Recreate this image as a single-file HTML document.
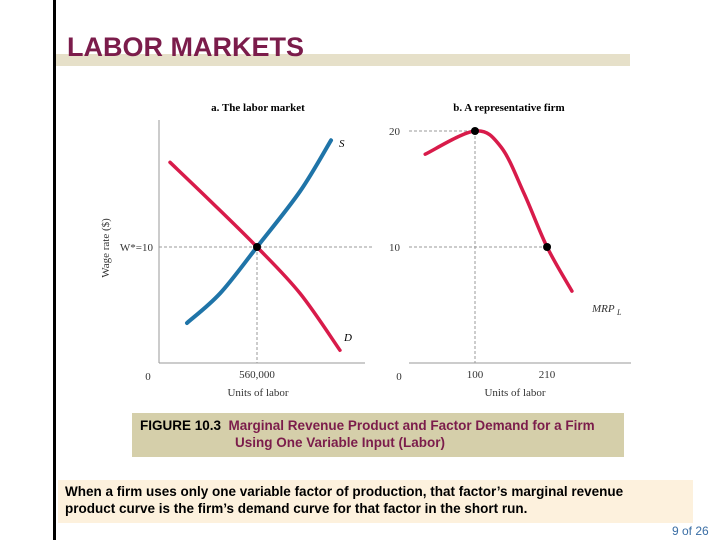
<!DOCTYPE html>
<html><head><meta charset="utf-8"><style>
body{margin:0;width:720px;height:540px;background:#fff;position:relative;overflow:hidden;font-family:"Liberation Sans",sans-serif}
.abs{position:absolute}
</style></head><body>
<div class="abs" style="left:53px;top:0;width:3px;height:540px;background:#000"></div>
<div class="abs" style="left:56px;top:54px;width:574px;height:12px;background:#e6e0c9"></div>
<div class="abs" style="left:67px;top:32px;font-size:27px;line-height:30px;font-weight:bold;color:#7b1c4b;">LABOR MARKETS</div>
<svg class="abs" style="left:0;top:0" width="720" height="410" font-family="Liberation Serif, serif">
<g id="g"></g>
</svg>
<div class="abs" style="left:132px;top:413px;width:492px;height:44px;background:#d5cfaa;font-size:13.5px;font-weight:bold;line-height:17px;box-sizing:border-box;padding:4px 0 0 8px;white-space:nowrap">
<span style="color:#000">FIGURE 10.3</span>&nbsp; <span style="color:#7b1c4b">Marginal Revenue Product and Factor Demand for a Firm<br><span style="padding-left:95px">Using One Variable Input (Labor)</span></span></div>
<div class="abs" style="left:58px;top:480px;width:635px;height:43px;background:#fdf1dd;font-size:13.5px;font-weight:bold;line-height:17px;box-sizing:border-box;padding:3px 0 0 7px;color:#000;white-space:nowrap">When a firm uses only one variable factor of production, that factor’s marginal revenue<br>product curve is the firm’s demand curve for that factor in the short run.</div>
<div class="abs" style="left:672px;top:524px;font-size:12px;color:#3a6ea5">9 of 26</div>
<script>
const supplyX=[160,349,560,806,983];
const supplyY=[3.45,6.0,10,14.8,19.2];
const demandX=[63,291,560,806,1034];
const demandY=[17.3,14.0,10,6.0,1.1];
const mrpX=[24,100,140,175,210,248];
const mrpY=[18,20,18.6,14.6,10,6.2];
const eqX=560, eqW=10;
const firmPts=[[100,20],[210,10]];
const NS='http://www.w3.org/2000/svg';
const g=document.getElementById('g');
const yS=v=>363-v*11.6;
const xA=v=>159+v*0.175;
const xB=v=>409.5+v*0.655;
function el(t,a,txt){const e=document.createElementNS(NS,t);for(const k in a)e.setAttribute(k,a[k]);if(txt!==undefined)e.textContent=txt;g.appendChild(e);return e;}
function smooth(p){let d='M'+p[0][0]+','+p[0][1];for(let i=0;i<p.length-1;i++){const p0=p[i-1]||p[i],p1=p[i],p2=p[i+1],p3=p[i+2]||p2;d+=' C'+(p1[0]+(p2[0]-p0[0])/6)+','+(p1[1]+(p2[1]-p0[1])/6)+' '+(p2[0]-(p3[0]-p1[0])/6)+','+(p2[1]-(p3[1]-p1[1])/6)+' '+p2[0]+','+p2[1];}return d;}
let e;
e=el('line',{x1:159,y1:120,x2:159,y2:363,stroke:'#999','stroke-width':1});
e=el('line',{x1:159,y1:363,x2:365,y2:363,stroke:'#999','stroke-width':1});
e=el('line',{x1:159,y1:yS(eqW),x2:372,y2:yS(eqW),stroke:'#999','stroke-dasharray':'3,2'});
e=el('line',{x1:xA(eqX),y1:yS(eqW),x2:xA(eqX),y2:363,stroke:'#999','stroke-dasharray':'3,2'});
e=el('path',{d:smooth(supplyX.map((x,i)=>[xA(x),yS(supplyY[i])])),fill:'none',stroke:'#1f74a8','stroke-width':4,'stroke-linecap':'round'});
e=el('path',{d:smooth(demandX.map((x,i)=>[xA(x),yS(demandY[i])])),fill:'none',stroke:'#d81b4a','stroke-width':3.5,'stroke-linecap':'round'});
e=el('circle',{cx:xA(eqX),cy:yS(eqW),r:4,fill:'#000'});
e=el('text',{x:258,y:111,'font-size':11,'font-weight':'bold','text-anchor':'middle'},'a. The labor market');
e=el('text',{x:339,y:147,'font-size':11,'font-style':'italic'},'S');
e=el('text',{x:344,y:341,'font-size':11,'font-style':'italic'},'D');
e=el('text',{x:153,y:251,'font-size':11,'text-anchor':'end',fill:'#333'},'W*=10');
e=el('text',{x:148,y:380,'font-size':11,'text-anchor':'middle',fill:'#333'},'0');
e=el('text',{x:xA(eqX),y:378,'font-size':11,'text-anchor':'middle',fill:'#333'},'560,000');
e=el('text',{x:258,y:396,'font-size':11,'text-anchor':'middle',fill:'#333'},'Units of labor');
e=el('text',{x:0,y:0,'font-size':11,'text-anchor':'middle',fill:'#333',transform:'translate(109,248) rotate(-90)'},'Wage rate ($)');
e=el('line',{x1:409,y1:363,x2:631,y2:363,stroke:'#999'});
e=el('line',{x1:409,y1:yS(20),x2:xB(100),y2:yS(20),stroke:'#999','stroke-dasharray':'3,2'});
e=el('line',{x1:409,y1:yS(10),x2:xB(210),y2:yS(10),stroke:'#999','stroke-dasharray':'3,2'});
e=el('line',{x1:xB(100),y1:yS(20),x2:xB(100),y2:363,stroke:'#999','stroke-dasharray':'3,2'});
e=el('path',{d:smooth(mrpX.map((x,i)=>[xB(x),yS(mrpY[i])])),fill:'none',stroke:'#d81b4a','stroke-width':3.5,'stroke-linecap':'round'});
firmPts.forEach(p=>{const c=el('circle',{cx:xB(p[0]),cy:yS(p[1]),r:4,fill:'#000'});});
e=el('text',{x:509,y:111,'font-size':11,'font-weight':'bold','text-anchor':'middle'},'b. A representative firm');
e=el('text',{x:400,y:yS(20)+4,'font-size':11,'text-anchor':'end',fill:'#333'},'20');
e=el('text',{x:400,y:yS(10)+4,'font-size':11,'text-anchor':'end',fill:'#333'},'10');
e=el('text',{x:399,y:380,'font-size':11,'text-anchor':'middle',fill:'#333'},'0');
e=el('text',{x:xB(100),y:378,'font-size':11,'text-anchor':'middle',fill:'#333'},'100');
e=el('text',{x:xB(210),y:378,'font-size':11,'text-anchor':'middle',fill:'#333'},'210');
e=el('text',{x:515,y:396,'font-size':11,'text-anchor':'middle',fill:'#333'},'Units of labor');
e=el('text',{x:592,y:312,'font-size':11,'font-style':'italic',fill:'#333'},'MRP');
e=el('text',{x:617,y:315,'font-size':8,'font-style':'italic',fill:'#333'},'L');
</script>
</body></html>
